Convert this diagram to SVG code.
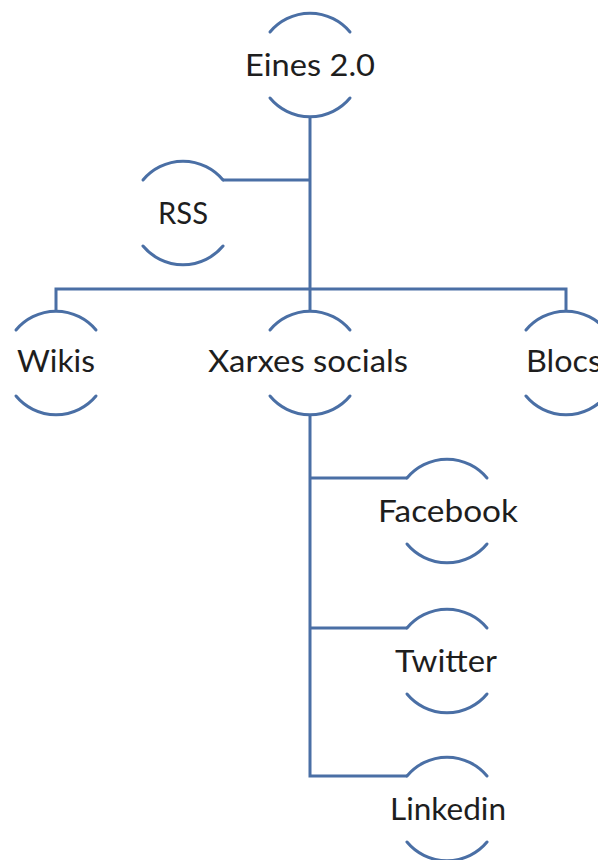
<svg xmlns="http://www.w3.org/2000/svg" width="598" height="860" viewBox="0 0 598 860">
<style>
.arc{fill:none;stroke:#4a6fa5;stroke-width:3;stroke-linecap:round}
.conn{fill:none;stroke:#4a6fa5;stroke-width:3;stroke-linejoin:miter}
.lbl{font-family:Lato,"Open Sans","Liberation Sans",sans-serif;font-size:30px;fill:#1e1e1e;text-anchor:middle}
</style>
<rect width="598" height="860" fill="#ffffff"/>
<g id="connectors">
<path class="conn" d="M310 117 V289"/>
<path class="conn" d="M223 180 H310"/>
<path class="conn" d="M56 312 V289 H566 V312"/>
<path class="conn" d="M310 289 V311"/>
<path class="conn" d="M310 415 V776 H407"/>
<path class="conn" d="M310 478 H407"/>
<path class="conn" d="M310 628 H407"/>
</g>
<g id="eines">
<path class="arc" d="M270 32 A52 52 0 0 1 350 32"/>
<path class="arc" d="M270 98 A52 52 0 0 0 350 98"/>
<text class="lbl" x="310" y="76" textLength="130" lengthAdjust="spacingAndGlyphs">Eines 2.0</text>
</g>
<g id="rss">
<path class="arc" d="M143 180 A52 52 0 0 1 223 180"/>
<path class="arc" d="M143 246 A52 52 0 0 0 223 246"/>
<text class="lbl" x="183" y="224" textLength="50" lengthAdjust="spacingAndGlyphs">RSS</text>
</g>
<g id="wikis">
<path class="arc" d="M16 330 A52 52 0 0 1 96 330"/>
<path class="arc" d="M16 396 A52 52 0 0 0 96 396"/>
<text class="lbl" x="56" y="372" textLength="78" lengthAdjust="spacingAndGlyphs">Wikis</text>
</g>
<g id="xarxes">
<path class="arc" d="M270 330 A52 52 0 0 1 350 330"/>
<path class="arc" d="M270 396 A52 52 0 0 0 350 396"/>
<text class="lbl" x="308" y="372" textLength="200" lengthAdjust="spacingAndGlyphs">Xarxes socials</text>
</g>
<g id="blocs">
<path class="arc" d="M526 330 A52 52 0 0 1 606 330"/>
<path class="arc" d="M526 396 A52 52 0 0 0 606 396"/>
<text class="lbl" x="564" y="372" textLength="76" lengthAdjust="spacingAndGlyphs">Blocs</text>
</g>
<g id="facebook">
<path class="arc" d="M407 478 A52 52 0 0 1 487 478"/>
<path class="arc" d="M407 544 A52 52 0 0 0 487 544"/>
<text class="lbl" x="448" y="522" textLength="140" lengthAdjust="spacingAndGlyphs">Facebook</text>
</g>
<g id="twitter">
<path class="arc" d="M407 628 A52 52 0 0 1 487 628"/>
<path class="arc" d="M407 694 A52 52 0 0 0 487 694"/>
<text class="lbl" x="446" y="672" textLength="102" lengthAdjust="spacingAndGlyphs">Twitter</text>
</g>
<g id="linkedin">
<path class="arc" d="M407 776 A52 52 0 0 1 487 776"/>
<path class="arc" d="M407 842 A52 52 0 0 0 487 842"/>
<text class="lbl" x="448" y="820" textLength="116" lengthAdjust="spacingAndGlyphs">Linkedin</text>
</g>
</svg>
